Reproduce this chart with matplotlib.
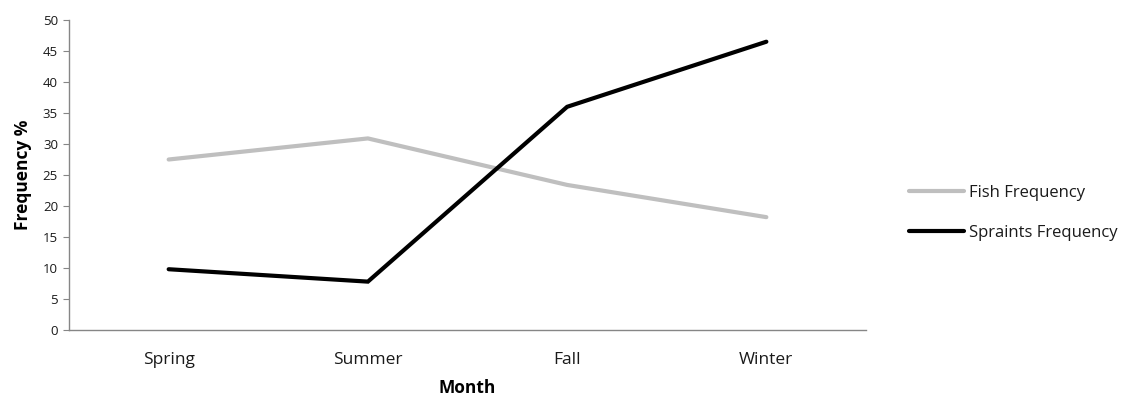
import matplotlib.pyplot as plt

plt.rcParams['font.family'] = ['Open Sans', 'DejaVu Sans']

### data
months = ['Spring', 'Summer', 'Fall', 'Winter']
fish = [27.5, 30.9, 23.4, 18.2]
spraints = [9.8, 7.8, 36.0, 46.5]
yticks = list(range(0, 51, 5))

### plot
fig = plt.figure(figsize=(11.21, 3.98), dpi=100)
ax = fig.add_axes([0.0616, 0.1709, 0.7109, 0.7788])

x = range(len(months))
ax.plot(x, fish, color='#BFBFBF', lw=3.0, solid_capstyle='round',
        solid_joinstyle='miter', label='Fish Frequency')
ax.plot(x, spraints, color='black', lw=3.0, solid_capstyle='round',
        solid_joinstyle='miter', label='Spraints Frequency')

ax.set_xlim(-0.5, len(months) - 0.5)
ax.set_ylim(0, 50)
ax.set_yticks(yticks)
ax.set_xticks(list(x))
ax.set_xticklabels(months, fontsize=12.5, color='#1a1a1a')
ax.tick_params(axis='x', length=0, pad=16)
ax.tick_params(axis='y', length=4, width=0.8, color='#868686', labelsize=9.5,
               labelcolor='#1a1a1a', pad=4)

for s in ['top', 'right']:
    ax.spines[s].set_visible(False)
for s in ['left', 'bottom']:
    ax.spines[s].set_color('#868686')
    ax.spines[s].set_linewidth(1.0)

ax.set_xlabel('Month', fontsize=12.5, fontweight='bold', labelpad=8)
ax.set_ylabel('Frequency %', fontsize=12.5, fontweight='bold', labelpad=8)

ax.legend(loc='center left', bbox_to_anchor=(1.035, 0.377), frameon=False,
          fontsize=12, handlelength=3.3, handletextpad=0.3, labelspacing=1.45,
          labelcolor='#1a1a1a')

fig.savefig('out.png', dpi=100)
